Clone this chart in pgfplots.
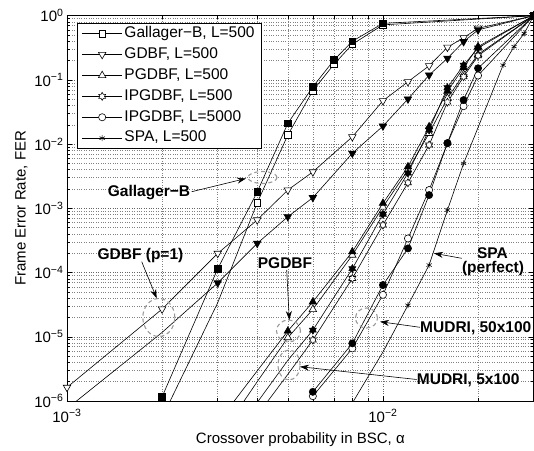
\documentclass[border=0pt]{standalone}
\usepackage{fontspec}
\setmainfont{Liberation Sans}
\usepackage{pgfplots}
\pgfplotsset{compat=1.18}
\usetikzlibrary{arrows.meta}

\pgfdeclareplotmark{hexagram}{%
 \pgfpathmoveto{\pgfpointpolar{90}{\pgfplotmarksize}}%
 \pgfpathlineto{\pgfpointpolar{120}{0.577\pgfplotmarksize}}%
 \pgfpathlineto{\pgfpointpolar{150}{\pgfplotmarksize}}%
 \pgfpathlineto{\pgfpointpolar{180}{0.577\pgfplotmarksize}}%
 \pgfpathlineto{\pgfpointpolar{210}{\pgfplotmarksize}}%
 \pgfpathlineto{\pgfpointpolar{240}{0.577\pgfplotmarksize}}%
 \pgfpathlineto{\pgfpointpolar{270}{\pgfplotmarksize}}%
 \pgfpathlineto{\pgfpointpolar{300}{0.577\pgfplotmarksize}}%
 \pgfpathlineto{\pgfpointpolar{330}{\pgfplotmarksize}}%
 \pgfpathlineto{\pgfpointpolar{0}{0.577\pgfplotmarksize}}%
 \pgfpathlineto{\pgfpointpolar{30}{\pgfplotmarksize}}%
 \pgfpathlineto{\pgfpointpolar{60}{0.577\pgfplotmarksize}}%
 \pgfpathclose
 \pgfusepathqfillstroke}

\pgfplotsset{
 base/.style={black, line width=0.6pt},
 gbo/.style={base, mark=square*, mark size=3.3pt, mark options={fill=white, solid}},
 gbf/.style={base, mark=square*, mark size=3.3pt, mark options={fill=black, solid}},
 gdo/.style={base, mark=triangle*, mark size=4.3pt, mark options={rotate=180, fill=white, solid}},
 gdf/.style={base, mark=triangle*, mark size=4.3pt, mark options={rotate=180, fill=black, solid}},
 pgo/.style={base, mark=triangle*, mark size=4.3pt, mark options={fill=white, solid}},
 pgf/.style={base, mark=triangle*, mark size=4.3pt, mark options={fill=black, solid}},
 ipo/.style={base, mark=hexagram, mark size=4pt, mark options={fill=white, solid}},
 ipf/.style={base, mark=hexagram, mark size=4pt, mark options={fill=black, solid}},
 i5o/.style={base, mark=*, mark size=3.6pt, mark options={fill=white, solid}},
 i5f/.style={base, mark=*, mark size=3.6pt, mark options={fill=black, solid}},
 spa/.style={base, mark=asterisk, mark size=3pt, mark options={solid}},
}

\begin{document}
\begin{tikzpicture}
\useasboundingbox (-67pt,-49pt) rectangle (467pt,401pt);
\begin{axis}[
 at={(0pt,0pt)}, anchor=south west,
 xmode=log, ymode=log, log basis x=10, log basis y=10,
 scale only axis, width=466.7pt, height=385.3pt,
 xmin=1e-3, xmax=0.03, ymin=1e-6, ymax=1,
 xtick={0.001,0.01},
 xticklabels={10\textsuperscript{−3},10\textsuperscript{−2}},
 minor xtick={0.002,0.003,0.004,0.005,0.006,0.007,0.008,0.009,0.02,0.03},
 ytick={1e-6,1e-5,1e-4,1e-3,1e-2,1e-1,1},
 yticklabels={10\textsuperscript{−6},10\textsuperscript{−5},10\textsuperscript{−4},10\textsuperscript{−3},10\textsuperscript{−2},10\textsuperscript{−1},10\textsuperscript{0}},
 minor ytick={2e-6,3e-6,4e-6,5e-6,6e-6,7e-6,8e-6,9e-6,
  2e-5,3e-5,4e-5,5e-5,6e-5,7e-5,8e-5,9e-5,
  2e-4,3e-4,4e-4,5e-4,6e-4,7e-4,8e-4,9e-4,
  2e-3,3e-3,4e-3,5e-3,6e-3,7e-3,8e-3,9e-3,
  2e-2,3e-2,4e-2,5e-2,6e-2,7e-2,8e-2,9e-2,
  0.2,0.3,0.4,0.5,0.6,0.7,0.8,0.9},
 grid=both,
 major grid style={black!60, dotted, line width=0.5pt},
 minor grid style={black!50, dotted, line width=0.5pt},
 axis line style={black, line width=0.8pt},
 tick style={black, line width=0.5pt},
 major tick length=5pt, minor tick length=3pt,
 tick label style={font=\fontsize{15}{18}\selectfont},
 xticklabel style={yshift=-5pt},
 label style={font=\fontsize{15}{18}\selectfont},
 xlabel style={yshift=-4pt},
 xlabel={Crossover probability in BSC, α},
 ylabel={Frame Error Rate, FER},
 legend style={at={(0.0214,0.9818)}, anchor=north west, draw=black, line width=0.8pt,
   font=\fontsize{15.5}{18}\selectfont, inner xsep=4.5pt, inner ysep=3.3pt,
   nodes={inner xsep=2pt, inner ysep=0pt, text height=11pt, text depth=3.5pt},
   row sep=6.4pt},
 legend cell align=left,
 legend image code/.code={\draw[mark repeat=2,mark phase=2,#1] plot coordinates {(0pt,0pt) (20pt,0pt) (40pt,0pt)};},
]
\addlegendimage{gbo}\addlegendentry{Gallager−B, L=500}
\addlegendimage{gdo}\addlegendentry{GDBF, L=500}
\addlegendimage{pgo}\addlegendentry{PGDBF, L=500}
\addlegendimage{ipo}\addlegendentry{IPGDBF, L=500}
\addlegendimage{i5o}\addlegendentry{IPGDBF, L=5000}
\addlegendimage{spa}\addlegendentry{SPA, L=500}

% Gallager-B
\addplot[gbo, forget plot, mark indices={2,3,4,5,6,7,8,9}] coordinates {
 (0.002,5.5e-7) (0.003,3.4e-5) (0.004,1.22e-3) (0.005,0.0139) (0.006,0.068)
 (0.007,0.175) (0.008,0.359) (0.01,0.72) (0.03,1)};
\addplot[gbf, forget plot] coordinates {
 (0.002,1.16e-6) (0.003,1.15e-4) (0.004,1.8e-3) (0.005,0.0211) (0.006,0.078)
 (0.007,0.204) (0.008,0.40) (0.01,0.76) (0.03,1)};
% GDBF
\addplot[gdo, forget plot] coordinates {
 (0.001,1.63e-6) (0.002,2.7e-5) (0.003,1.99e-4) (0.004,6.6e-4) (0.005,1.93e-3)
 (0.006,3.7e-3) (0.008,0.013) (0.01,0.0474) (0.012,0.0937) (0.014,0.166)
 (0.016,0.322) (0.018,0.454) (0.02,0.637) (0.03,1)};
\addplot[gdf, forget plot, mark indices={2,3,4,5,6,7,8,9,10,11,12,13,14}] coordinates {
 (0.001,7.6e-7) (0.002,1.17e-5) (0.003,6.9e-5) (0.004,2.85e-4) (0.005,7.4e-4)
 (0.006,1.47e-3) (0.008,7.2e-3) (0.01,0.0191) (0.012,0.0504) (0.014,0.119)
 (0.016,0.217) (0.018,0.394) (0.02,0.60) (0.03,1)};
% PGDBF
\addplot[pgo, forget plot, mark indices={2,3,4,5,6,7,8,9,10,11,12}] coordinates {
 (0.003,2.5e-7) (0.004,2.0e-6) (0.005,9.7e-6) (0.006,2.67e-5) (0.008,1.87e-4)
 (0.01,1.05e-3) (0.012,3.95e-3) (0.014,0.0147) (0.016,0.0517) (0.018,0.122)
 (0.02,0.25) (0.03,1)};
\addplot[pgf, forget plot, mark indices={2,3,4,5,6,7,8,9,10,11,12}] coordinates {
 (0.003,4.6e-7) (0.004,2.95e-6) (0.005,1.23e-5) (0.006,3.5e-5) (0.008,2.11e-4)
 (0.01,1.2e-3) (0.012,4.45e-3) (0.014,0.0187) (0.016,0.067) (0.018,0.155)
 (0.02,0.33) (0.03,1)};
% IPGDBF L=500
\addplot[ipo, forget plot, mark indices={2,3,4,5,6,7,8,9,10,11}] coordinates {
 (0.004,6e-7) (0.005,2.6e-6) (0.006,8.9e-6) (0.008,8.1e-5) (0.01,5.5e-4)
 (0.012,2.5e-3) (0.014,9.7e-3) (0.016,0.045) (0.018,0.112) (0.02,0.238) (0.03,1)};
\addplot[ipf, forget plot, mark indices={2,3,4,5,6,7,8,9,10,11}] coordinates {
 (0.004,9.5e-7) (0.005,4.3e-6) (0.006,1.27e-5) (0.008,1.15e-4) (0.01,8.1e-4)
 (0.012,3.55e-3) (0.014,0.0166) (0.016,0.0756) (0.018,0.17) (0.02,0.314) (0.03,1)};
% IPGDBF L=5000
\addplot[i5o, forget plot] coordinates {
 (0.006,1.19e-6) (0.008,6.6e-6) (0.01,4.5e-5) (0.012,3.4e-4) (0.014,1.93e-3)
 (0.016,0.0103) (0.018,0.039) (0.02,0.117) (0.03,1)};
\addplot[i5f, forget plot] coordinates {
 (0.006,1.39e-6) (0.008,7.9e-6) (0.01,6.4e-5) (0.012,2.38e-4) (0.014,1.61e-3)
 (0.016,0.0104) (0.018,0.0486) (0.02,0.152) (0.03,1)};
% SPA
\addplot[spa, forget plot, mark indices={2,3,4,5,6,7,8,9,10}] coordinates {
 (0.008,9.3e-7) (0.01,5.8e-6) (0.012,3.1e-5) (0.014,1.31e-4) (0.016,9.4e-4)
 (0.018,5.0e-3) (0.024,0.17) (0.026,0.33) (0.028,0.53) (0.03,1)};
\end{axis}

% annotations (coordinates in pt relative to lower-left corner of the axis box)
\tikzset{ann/.style={font=\bfseries\fontsize{15.5}{18}\selectfont, inner sep=0pt},
 el/.style={black!40, line width=1.1pt, dash pattern=on 4pt off 3pt},
 arr/.style={black, line width=0.6pt, -{Stealth[length=9pt,width=6pt]}}}
% Gallager-B
\draw[el] (195.5pt,223.5pt) ellipse (14.5pt and 6pt);
\node[ann] at (82pt,208pt) {Gallager−B};
\draw[arr] (124.7pt,209.3pt) -- (179pt,222.5pt);
% GDBF (p=1)
\draw[el] (91.8pt,83.5pt) ellipse (16pt and 19pt);
\node[ann] at (73.5pt,146pt) {GDBF (p=1)};
\draw[arr] (74.7pt,139.3pt) -- (89.7pt,102.7pt);
% PGDBF
\draw[el] (221.5pt,70pt) ellipse (12pt and 11pt);
\node[ann] at (218pt,138pt) {PGDBF};
\draw[arr] (219.7pt,131pt) -- (222.3pt,81pt);
% MUDRI 5x100
\draw[el] (222pt,36pt) ellipse (11pt and 15pt);
\node[ann, anchor=west] at (349.7pt,21pt) {MUDRI, 5x100};
\draw[arr] (349.7pt,21.5pt) -- (233pt,34.3pt);
% MUDRI 50x100
\draw[el] (299.5pt,83pt) ellipse (11pt and 10pt);
\node[ann, anchor=west] at (353pt,73pt) {MUDRI, 50x100};
\draw[arr] (353pt,73.7pt) -- (313pt,79.3pt);
% SPA (perfect)
\node[ann] at (425.5pt,148.3pt) {SPA};
\node[ann] at (426pt,132.7pt) {(perfect)};
\draw[arr] (394.7pt,142.7pt) -- (367pt,147.7pt);
\end{tikzpicture}
\end{document}
